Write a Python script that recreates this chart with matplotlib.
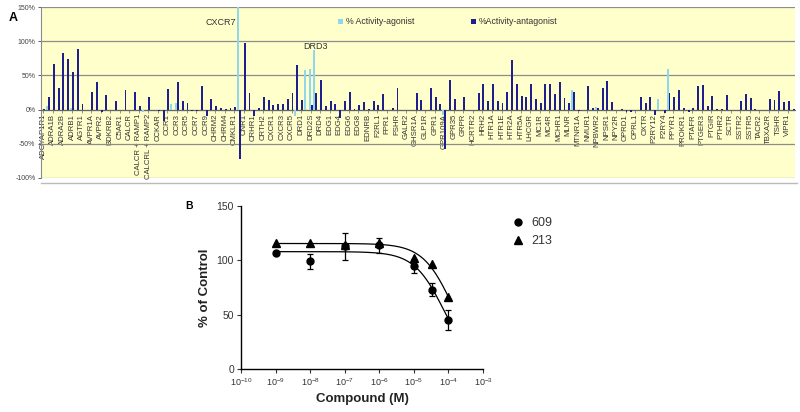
import numpy as np
import matplotlib
matplotlib.use("Agg")
import matplotlib.pyplot as plt
from matplotlib.lines import Line2D

plt.rcParams['font.family'] = ['Liberation Sans', 'DejaVu Sans']

# ---- panel A: receptor screen (every other category is labelled on the axis) ----
labels = ['ADCYAP1R1', 'ADRA1B', 'ADRA2B', 'ADRB1', 'AGTR1', 'AVPR1A', 'AVPR2', 'BDKRB2',
          'C5AR1', 'CALCR', 'CALCR + RAMP1', 'CALCRL + RAMP2', 'CCKAR', 'CCR1', 'CCR3', 'CCR5',
          'CCR7', 'CCR9', 'CHRM2', 'CHRM4', 'CMKLR1', 'CNR1', 'CRHR1', 'CRTH2', 'CXCR1',
          'CXCR3', 'CXCR5', 'DRD1', 'DRD2S', 'DRD4', 'EDG1', 'EDG4', 'EDG6', 'EDG8', 'EDNRB',
          'F2RL1', 'FPR1', 'FSHR', 'GALR2', 'GHSR1A', 'GLP1R', 'GPR1', 'GPR109A', 'GPR35',
          'GRPR', 'HCRTR2', 'HRH2', 'HTR1A', 'HTR1E', 'HTR2A', 'HTR5A', 'LHCGR', 'MC1R',
          'MC4R', 'MCHR1', 'MLNR', 'MTNR1A', 'NMUR1', 'NPBWR2', 'NPSR1', 'NPY2R', 'OPRD1',
          'OPRL1', 'OXTR', 'P2RY12', 'P2RY4', 'PPYR1', 'PROKR1', 'PTAFR', 'PTGER3', 'PTGIR',
          'PTHR2', 'SCTR', 'SSTR2', 'SSTR5', 'TACR2', 'TBXA2R', 'TSHR', 'VIPR1']

agonist = [
    0, 5, 0, 0, 0, 0, 3, 0, 0, 0,
    0, 0, 0, 0, 0, 0, 0, 0, 0, 0,
    0, -4, 0, 0, 0, 0, 0, 8, 9, 0,
    0, 0, 0, 0, 0, 0, 0, 0, 0, 0,
    0, 150, 0, 0, 0, 0, 0, 0, 0, 0,
    0, 0, 0, -10, 0, 58, 60, 87, 0, 0,
    0, 0, 0, 0, 0, 0, 0, 0, 0, 0,
    0, 0, 0, 0, 0, 0, 0, 0, 0, 0,
    0, 0, 0, 0, -8, 0, 0, 0, 0, 0,
    0, 0, 0, 0, 0, 0, 0, 0, 0, 0,
    0, 0, 0, 0, 0, 0, 0, 0, 0, 0,
    0, 29, 0, 0, 0, 0, 4, 0, 0, 0,
    0, 0, 0, 0, 0, 0, 0, 0, 0, 16,
    0, 59, 0, 0, 0, 0, 0, 0, 0, 0,
    0, 0, 0, 0, 0, 0, 0, 0, 0, 0,
    0, 0, 0, 0, 0, 0, 0, 0]

antagonist = [
    1, 19, 67, 31, 83, 74, 55, 88, 8, 0,
    26, 40, -3, 22, -1, 12, 0, 28, 0, 26,
    5, -1, 19, 0, -2, -16, 30, 0, 41, 13,
    10, -2, -2, 35, -10, 16, 5, 3, 1, 2,
    4, -72, 97, 25, -10, 2, 19, 14, 6, 8,
    8, 15, 25, 65, 14, 0, 7, 24, 43, 5,
    13, 8, -12, 12, 26, 1, 6, 11, 1, 13,
    7, 23, 0, 3, 31, -1, 0, 0, 24, 14,
    0, 32, 18, 8, -57, 43, 16, 0, 19, 0,
    -1, 24, 37, 12, 37, 12, 10, 26, 73, 38,
    20, 19, 38, 15, 10, 38, 37, 23, 40, 17,
    9, 26, -2, 0, 34, 2, 2, 31, 42, 11,
    0, 1, -3, -3, 0, 18, 9, 18, -8, 0,
    -5, 25, 18, 28, 2, -3, 3, 34, 36, 5,
    20, 1, 1, 22, 0, 0, 12, 23, 17, 1,
    0, 0, 16, 14, 27, 11, 12, 1]

callouts = {'CXCR7': 41, 'DRD3': 57}

# ---- panel B: dose response ----
conc = [1e-9, 1e-8, 1e-7, 1e-6, 1e-5, 3.3e-5, 1e-4]
resp_609 = [107, 99, 113, 114, 95, 73, 45]
err_609 = [2, 7, 12.5, 7, 6.5, 6, 9.5]
resp_213 = [115.5, 115.5, 114.5, 115.5, 102, 96.5, 66.5]
# fitted curve parameters (top, bottom, logIC50, hill)
fit_609 = (108, 0, -4.13, 1.0)
fit_213 = (115.5, 0, -3.87, 1.0)

fig = plt.figure(figsize=(8, 4.12), dpi=100)

# ================= panel A =================
axA = fig.add_axes([41/800, 1-178/412, 754/800, 171/412])
axA.set_facecolor('#FFFFCC')
n = len(antagonist)
x = np.arange(n)
axA.bar(x - 0.2, agonist, width=0.4, color='#8FD8EC', linewidth=0, zorder=3,
        label='% Activity-agonist')
axA.bar(x + 0.2, antagonist, width=0.4, color='#1E1E8C', linewidth=0, zorder=3,
        label='%Activity-antagonist')
axA.set_xlim(-0.5, n - 0.5)
axA.set_ylim(-100, 150)
axA.set_yticks([-100, -50, 0, 50, 100, 150])
axA.set_yticklabels(['-100%', '-50%', '0%', '50%', '100%', '150%'])
axA.yaxis.grid(True, color='#8C8C8C', linewidth=0.9)
axA.set_axisbelow(True)
axA.tick_params(axis='y', labelsize=5, colors='#444444', length=2, width=0.6, pad=2)
axA.spines['bottom'].set_position(('data', 0))
axA.spines['bottom'].set_color('#666666')
axA.spines['left'].set_color('#8C8C8C')
axA.spines['top'].set_visible(False)
axA.spines['right'].set_visible(False)
axA.set_xticks(np.arange(0, n, 2))
axA.set_xticklabels(labels, rotation=90, fontsize=5.6, color='#333333')
axA.tick_params(axis='x', length=2, width=0.5, pad=1, color='#666666')

for name, i in callouts.items():
    if name == 'CXCR7':
        axA.text(i - 3.8, 128, name, fontsize=6.5, color='#333333', ha='center', va='center')
    else:
        axA.text(i, 92, name, fontsize=6.5, color='#333333', ha='center', va='center')

axA.legend(loc='center', bbox_to_anchor=(448/800, 1-22/412), bbox_transform=fig.transFigure,
           ncol=2, frameon=False, fontsize=6.3, handlelength=0.5, handleheight=0.5,
           handletextpad=0.4, columnspacing=6.5, labelcolor='#333333')

fig.add_artist(Line2D([41/800, 797/800], [1-183/412, 1-183/412],
                      color='#BBBBBB', linewidth=1))
fig.text(13/800, 1-18/412, 'A', fontsize=9, fontweight='bold', ha='center', va='center')

# ================= panel B =================
axB = fig.add_axes([241/800, 1-369/412, 242/800, 163/412])
xs = np.logspace(-9, np.log10(1.05e-4), 300)
for (top, bot, logic50, hill) in (fit_609, fit_213):
    axB.plot(xs, bot + (top - bot) / (1 + 10 ** ((np.log10(xs) - logic50) * hill)),
             color='black', linewidth=0.9)
axB.errorbar(conc, resp_609, yerr=err_609, fmt='o', color='black', markersize=5,
             capsize=2.5, elinewidth=0.9, capthick=0.9)
axB.plot(conc, resp_213, '^', color='black', markersize=5.5)
axB.set_xscale('log')
axB.set_xlim(1e-10, 1e-3)
axB.set_ylim(0, 150)
axB.set_yticks([0, 50, 100, 150])
axB.set_xticks([10.0 ** k for k in range(-10, -2)])
axB.minorticks_off()
for s in ('top', 'right'):
    axB.spines[s].set_visible(False)
for s in ('left', 'bottom'):
    axB.spines[s].set_linewidth(1.0)
axB.tick_params(axis='y', labelsize=7.5, colors='#333333', length=3, pad=2)
axB.tick_params(axis='x', labelsize=6.5, colors='#333333', length=3, pad=2)
axB.set_ylabel('% of Control', fontsize=9.5, fontweight='bold', color='#222222', labelpad=4)
axB.set_xlabel('Compound (M)', fontsize=9.5, fontweight='bold', color='#222222', labelpad=4)
handles = [Line2D([], [], marker='o', linestyle='none', color='black', markersize=5),
           Line2D([], [], marker='^', linestyle='none', color='black', markersize=5.5)]
axB.legend(handles, ['609', '213'], loc='upper left', bbox_to_anchor=(500/800, 1-206/412),
           bbox_transform=fig.transFigure, frameon=False, fontsize=9, handletextpad=0.6,
           labelspacing=0.5, handlelength=1, labelcolor='#333333')
fig.text(189/800, 1-206/412, 'B', fontsize=7.5, fontweight='bold', ha='center', va='center')

fig.savefig('out.png', dpi=100)
